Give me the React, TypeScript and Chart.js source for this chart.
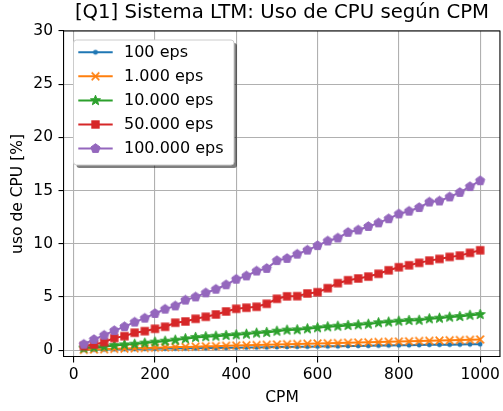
import { useEffect, useRef } from 'react';
import { Chart, registerables } from 'chart.js';

Chart.register(...registerables);

const titleText = '[Q1] Sistema LTM: Uso de CPU según CPM';
const xLabel = 'CPM';
const yLabel = 'uso de CPU [%]';

const cpm = [25, 50, 75, 100, 125, 150, 175, 200, 225, 250, 275, 300, 325, 350, 375, 400, 425, 450, 475, 500,
  525, 550, 575, 600, 625, 650, 675, 700, 725, 750, 775, 800, 825, 850, 875, 900, 925, 950, 975, 1000];

const seriesLabels = ['100 eps', '1.000 eps', '10.000 eps', '50.000 eps', '100.000 eps'];
const seriesColors = ['#1f77b4', '#ff7f0e', '#2ca02c', '#d62728', '#9467bd'];

const eps100 = [0.04, 0.05, 0.07, 0.08, 0.09, 0.1, 0.12, 0.13, 0.14, 0.15, 0.17, 0.18, 0.19, 0.2, 0.21, 0.22, 0.24, 0.25, 0.26, 0.28,
  0.3, 0.31, 0.32, 0.34, 0.35, 0.36, 0.38, 0.39, 0.4, 0.42, 0.44, 0.45, 0.46, 0.47, 0.49, 0.5, 0.51, 0.52, 0.54, 0.55];
const eps1000 = [0.03, 0.06, 0.09, 0.12, 0.14, 0.17, 0.2, 0.22, 0.25, 0.28, 0.3, 0.32, 0.35, 0.37, 0.4, 0.42, 0.45, 0.47, 0.5, 0.53,
  0.55, 0.57, 0.6, 0.62, 0.64, 0.66, 0.69, 0.71, 0.73, 0.76, 0.78, 0.8, 0.82, 0.85, 0.87, 0.89, 0.92, 0.94, 0.96, 1.0];
const eps10000 = [0.19, 0.25, 0.32, 0.44, 0.5, 0.56, 0.66, 0.75, 0.84, 0.94, 1.07, 1.19, 1.26, 1.31, 1.38, 1.44, 1.5, 1.6, 1.66, 1.78,
  1.88, 1.91, 2.0, 2.1, 2.19, 2.25, 2.32, 2.38, 2.44, 2.57, 2.64, 2.72, 2.79, 2.81, 2.94, 3.0, 3.1, 3.16, 3.28, 3.35];
const eps50000 = [0.38, 0.53, 0.75, 1.13, 1.31, 1.63, 1.78, 2.0, 2.19, 2.57, 2.69, 2.94, 3.13, 3.35, 3.63, 3.88, 3.98, 4.07, 4.35, 4.82,
  5.05, 5.07, 5.32, 5.44, 5.82, 6.29, 6.57, 6.73, 6.91, 7.17, 7.5, 7.79, 7.97, 8.2, 8.41, 8.57, 8.76, 8.88, 9.14, 9.38];
const eps100000 = [0.55, 1.0, 1.4, 1.83, 2.2, 2.63, 3.0, 3.44, 3.85, 4.15, 4.7, 5.0, 5.38, 5.72, 6.14, 6.66, 6.97, 7.43, 7.68, 8.41,
  8.62, 9.02, 9.4, 9.82, 10.26, 10.54, 11.07, 11.29, 11.62, 11.96, 12.35, 12.8, 13.06, 13.4, 13.92, 14.02, 14.4, 14.82, 15.37, 15.92];

const seriesValues = [eps100, eps1000, eps10000, eps50000, eps100000];

const xTicks = [0, 200, 400, 600, 800, 1000];
const yTicks = [0, 5, 10, 15, 20, 25, 30];
const xRange = [-23.75, 1048.75];
const yRange = [-0.65, 30];

type Drawer = (ctx: CanvasRenderingContext2D, c: number, color: string) => void;

function makeMarker(size: number, color: string, draw: Drawer): HTMLCanvasElement {
  const cv = document.createElement('canvas');
  cv.width = size;
  cv.height = size;
  const ctx = cv.getContext('2d')!;
  draw(ctx, size / 2, color);
  return cv;
}

const drawDot: Drawer = (ctx, c, color) => {
  ctx.fillStyle = color;
  ctx.beginPath();
  ctx.arc(c, c, 2.4, 0, Math.PI * 2);
  ctx.fill();
};
const drawX: Drawer = (ctx, c, color) => {
  ctx.strokeStyle = color;
  ctx.lineWidth = 1.7;
  const r = 3.8;
  ctx.beginPath();
  ctx.moveTo(c - r, c - r);
  ctx.lineTo(c + r, c + r);
  ctx.moveTo(c - r, c + r);
  ctx.lineTo(c + r, c - r);
  ctx.stroke();
};
const drawStar: Drawer = (ctx, c, color) => {
  ctx.fillStyle = color;
  ctx.strokeStyle = color;
  ctx.lineWidth = 1;
  const R = 5.3;
  ctx.beginPath();
  for (let i = 0; i < 10; i++) {
    const a = -Math.PI / 2 + (i * Math.PI) / 5;
    const r = i % 2 === 0 ? R : R * 0.42;
    const px = c + r * Math.cos(a);
    const py = c + r * Math.sin(a);
    if (i === 0) ctx.moveTo(px, py);
    else ctx.lineTo(px, py);
  }
  ctx.closePath();
  ctx.fill();
  ctx.stroke();
};
const drawSquare: Drawer = (ctx, c, color) => {
  ctx.fillStyle = color;
  const s = 8.4;
  ctx.fillRect(c - s / 2, c - s / 2, s, s);
};
const drawPentagon: Drawer = (ctx, c, color) => {
  ctx.fillStyle = color;
  ctx.strokeStyle = color;
  ctx.lineWidth = 1;
  const R = 4.8;
  ctx.beginPath();
  for (let i = 0; i < 5; i++) {
    const a = -Math.PI / 2 + (i * 2 * Math.PI) / 5;
    const px = c + R * Math.cos(a);
    const py = c + R * Math.sin(a);
    if (i === 0) ctx.moveTo(px, py);
    else ctx.lineTo(px, py);
  }
  ctx.closePath();
  ctx.fill();
  ctx.stroke();
};

const markerDrawers: Drawer[] = [drawDot, drawX, drawStar, drawSquare, drawPentagon];
const markerSizes = [8, 11, 13, 11, 13];

const FONT = "'DejaVu Sans', 'Liberation Sans', sans-serif";

export default function App() {
  const ref = useRef<HTMLCanvasElement | null>(null);

  useEffect(() => {
    if (!ref.current) return;
    const markers = seriesColors.map((col, i) => makeMarker(markerSizes[i], col, markerDrawers[i]));

    const frameAndLegend = {
      id: 'frameAndLegend',
      afterDraw(chart: any) {
        const { ctx, chartArea } = chart;
        ctx.save();
        ctx.strokeStyle = '#000';
        ctx.lineWidth = 1.1;
        ctx.beginPath();
        ctx.moveTo(chartArea.left, chartArea.top);
        ctx.lineTo(chartArea.right, chartArea.top);
        ctx.lineTo(chartArea.right, chartArea.bottom);
        ctx.stroke();

        const bx = 73.5, by = 40, bw = 160.5, bh = 125, rad = 3;
        const roundRect = (x: number, y: number, w: number, h: number) => {
          ctx.beginPath();
          ctx.moveTo(x + rad, y);
          ctx.lineTo(x + w - rad, y);
          ctx.arcTo(x + w, y, x + w, y + rad, rad);
          ctx.lineTo(x + w, y + h - rad);
          ctx.arcTo(x + w, y + h, x + w - rad, y + h, rad);
          ctx.lineTo(x + rad, y + h);
          ctx.arcTo(x, y + h, x, y + h - rad, rad);
          ctx.lineTo(x, y + rad);
          ctx.arcTo(x, y, x + rad, y, rad);
          ctx.closePath();
        };
        ctx.fillStyle = 'rgba(0,0,0,0.5)';
        roundRect(bx + 3, by + 3, bw, bh);
        ctx.fill();
        ctx.fillStyle = '#ffffff';
        roundRect(bx, by, bw, bh);
        ctx.fill();
        ctx.strokeStyle = '#cccccc';
        ctx.lineWidth = 1;
        ctx.stroke();

        const rowY = [52.3, 76.3, 100.5, 124.5, 148.5];
        chart.data.datasets.forEach((ds: any, i: number) => {
          const y = rowY[i];
          ctx.strokeStyle = ds.borderColor;
          ctx.lineWidth = 2;
          ctx.beginPath();
          ctx.moveTo(78.3, y);
          ctx.lineTo(112.7, y);
          ctx.stroke();
          const m = markers[i];
          ctx.drawImage(m, 95.5 - m.width / 2, y - m.height / 2);
          ctx.fillStyle = '#000';
          ctx.font = `16px ${FONT}`;
          ctx.textBaseline = 'middle';
          ctx.textAlign = 'left';
          ctx.fillText(ds.label, 124, y + 0.5);
        });
        ctx.restore();
      },
    };

    const datasets = seriesLabels.map((label, i) => ({
      label,
      data: cpm.map((x, k) => ({ x, y: seriesValues[i][k] })),
      borderColor: seriesColors[i],
      backgroundColor: seriesColors[i],
      borderWidth: 2,
      pointStyle: markers[i],
      pointRadius: 4,
      tension: 0,
      fill: false,
      order: 4 - i,
    }));

    const axisCommon = {
      type: 'linear' as const,
      grid: { color: '#b0b0b0', lineWidth: 1.1, tickColor: '#000', tickLength: 5.5, tickWidth: 1.1 },
      border: { color: '#000', width: 1.1 },
    };

    const chart = new Chart(ref.current, {
      type: 'line',
      data: { datasets },
      plugins: [frameAndLegend],
      options: {
        animation: false,
        responsive: false,
        layout: { autoPadding: false, padding: { top: 0, right: 2, left: 0, bottom: 0 } },
        font: { family: FONT },
        plugins: {
          legend: { display: false },
          tooltip: { enabled: false },
          title: {
            display: true,
            text: titleText,
            fullSize: false,
            color: '#000',
            font: { size: 19.7, weight: 'normal', family: FONT },
            padding: { top: 1.5, bottom: 5.8 },
          },
        },
        scales: {
          x: {
            ...axisCommon,
            min: xRange[0],
            max: xRange[1],
            afterBuildTicks: (s: any) => { s.ticks = xTicks.map((v) => ({ value: v })); },
            afterFit: (s: any) => { s.height = 54; },
            ticks: { color: '#000', font: { size: 15.5, family: FONT }, padding: 3, maxRotation: 0, autoSkip: false, callback: (v: any) => String(v) },
            title: { display: true, text: xLabel, color: '#000', font: { size: 15.5, family: FONT }, padding: { top: 0, bottom: 3.7 } },
          },
          y: {
            ...axisCommon,
            min: yRange[0],
            max: yRange[1],
            afterBuildTicks: (s: any) => { s.ticks = yTicks.map((v) => ({ value: v })); },
            afterFit: (s: any) => { s.width = 64; },
            ticks: { color: '#000', font: { size: 15.5, family: FONT }, padding: 5.5, autoSkip: false, callback: (v: any) => String(v) },
            title: { display: true, text: yLabel, color: '#000', font: { size: 15.5, family: FONT }, padding: { top: 9, bottom: 0 } },
          },
        },
      } as any,
    });
    return () => chart.destroy();
  }, []);

  return (
    <div style={{ position: 'absolute', left: 0, top: 0, width: 503, height: 411 }}>
      <canvas ref={ref} width={503} height={411} style={{ width: 503, height: 411 }} />
    </div>
  );
}
